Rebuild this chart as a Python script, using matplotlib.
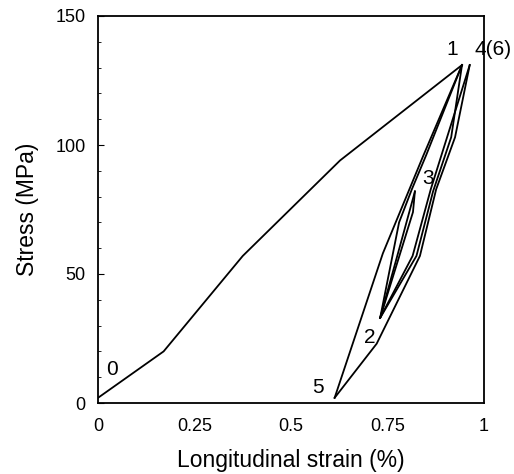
import matplotlib
matplotlib.use("Agg")
import matplotlib.pyplot as plt
from matplotlib.ticker import MultipleLocator

plt.rcParams['font.family'] = ['Liberation Sans', 'DejaVu Sans']

# Initial loading 0 -> 1
load_x = [0.0, 0.17, 0.375, 0.627, 0.943]
load_y = [2, 20, 57, 94, 131]
# Unload 1 -> 2 (right side)
un12_x = [0.943, 0.915, 0.868, 0.825, 0.731]
un12_y = [131, 103, 82, 57, 33]
# Reload 2 -> 3
re23_x = [0.731, 0.79, 0.821]
re23_y = [33, 65, 82]
# Unload 3 -> 2
un32_x = [0.821, 0.816, 0.731]
un32_y = [82, 74, 33]
# Reload 2 -> 4
re24_x = [0.731, 0.815, 0.862, 0.963]
re24_y = [33, 57, 82.8, 131]
# Unload 4 -> 5
un45_x = [0.963, 0.925, 0.876, 0.834, 0.722, 0.613]
un45_y = [131, 103, 82.8, 57, 23, 2]
# Reload 5 -> 6
re56_x = [0.613, 0.738, 0.842, 0.943]
re56_y = [2, 58, 95.6, 131]
# Inner branch from 2 merging towards the peak
br2_x = [0.731, 0.78, 0.813, 0.85, 0.943]
br2_y = [33, 70, 82.8, 96, 131]

labels = ["0", "1", "4(6)", "3", "2", "5"]
label_x = [0.036, 0.917, 1.023, 0.855, 0.705, 0.570]
label_y = [13, 137, 137, 87, 25.5, 6.2]

xticks = [0, 0.25, 0.5, 0.75, 1]
xticklabels = ["0", "0.25", "0.5", "0.75", "1"]
yticks = [0, 50, 100, 150]

fig = plt.figure(figsize=(5.14, 4.74), dpi=100)
ax = fig.add_axes([98/514, 1-403/474, 386/514, 387/474])

for xs, ys in [(load_x, load_y), (un12_x, un12_y), (re23_x, re23_y),
               (un32_x, un32_y), (re24_x, re24_y), (un45_x, un45_y),
               (re56_x, re56_y), (br2_x, br2_y)]:
    ax.plot(xs, ys, color='black', lw=1.3)

for t, x, y in zip(labels, label_x, label_y):
    ax.text(x, y, t, fontsize=15, ha='center', va='center', clip_on=False)

ax.set_xlim(0, 1)
ax.set_ylim(0, 150)
ax.set_xticks(xticks)
ax.set_xticklabels(xticklabels)
ax.set_yticks(yticks)
ax.yaxis.set_minor_locator(MultipleLocator(10))
ax.xaxis.set_minor_locator(MultipleLocator(0.05))
ax.tick_params(axis='both', which='major', direction='in', length=4, labelsize=13)
ax.tick_params(axis='y', which='major', pad=9)
ax.tick_params(axis='x', which='major', pad=11)
ax.tick_params(axis='both', which='minor', direction='in', length=2.5)
ax.tick_params(axis='x', which='both', length=0)
for s in ax.spines.values():
    s.set_linewidth(1.3)
ax.set_xlabel("Longitudinal strain (%)", fontsize=16.5, labelpad=10)
ax.set_ylabel("Stress (MPa)", fontsize=16.5, labelpad=12)

fig.savefig("out.png", dpi=100)
